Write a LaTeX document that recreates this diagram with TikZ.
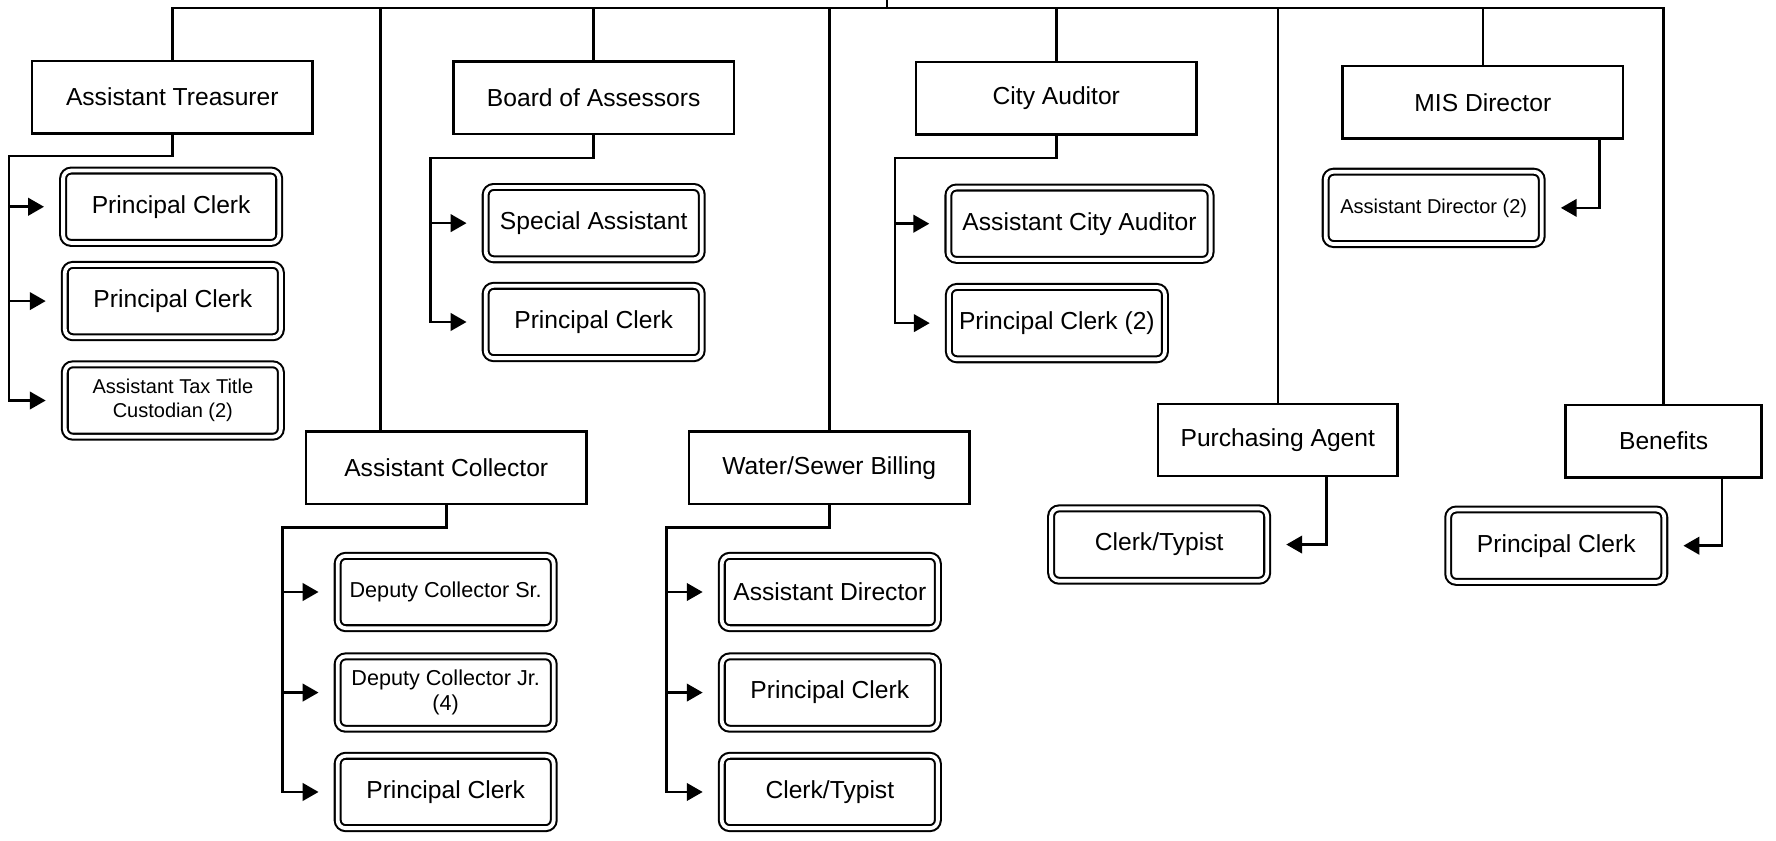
\documentclass[tikz,border=0pt]{standalone}
\usepackage{fontspec}
\setmainfont{Liberation Sans}
\usetikzlibrary{arrows.meta,calc}

\tikzset{
    head box/.style={
        draw,line width=1.6pt,
        minimum width=6.2cm,minimum height=1.6cm,
        font=\fontsize{15.5}{18}\selectfont
    },
    staff box/.style={
        draw,line width=1.3pt,double,double distance=2.4pt,rounded corners=5pt,
        minimum width=4.78cm,minimum height=1.6cm,align=center,
        font=\fontsize{15.5}{18}\selectfont
    },
    small text/.style={font=\fontsize{12.6}{15}\selectfont},
    link/.style={line width=1.6pt,line cap=rect},
    feed/.style={line width=1.6pt,line cap=rect,-{Triangle[length=10pt,width=11pt]},shorten >=0.4cm}
}

\begin{document}
\begin{tikzpicture}[x=0.025cm,y=-0.025cm]
    \useasboundingbox (0,0) rectangle (1572,744);

    % department heads
    \node[head box] (AT) at (152.5,86) {Assistant Treasurer};
    \node[head box] (BA) at (525.5,86.5) {Board of Assessors};
    \node[head box] (CA) at (935,87) {City Auditor};
    \node[head box] (MIS) at (1312.5,90.5) {MIS Director};
    \node[head box] (AC) at (395,414) {Assistant Collector};
    \node[head box] (WS) at (734,414) {Water/Sewer Billing};
    \node[head box,minimum width=5.3cm] (PA) at (1131,389.5) {Purchasing Agent};
    \node[head box,minimum width=4.33cm] (BE) at (1472.5,390.5) {Benefits};

    % staff
    \node[staff box] (AT1) at (151.5,183) {Principal Clerk};
    \node[staff box] (AT2) at (153,266.5) {Principal Clerk};
    \node[staff box,small text] (AT3) at (153,354.5) {Assistant Tax Title\\Custodian (2)};
    \node[staff box] (BA1) at (525.5,197.5) {Special Assistant};
    \node[staff box] (BA2) at (525.5,285) {Principal Clerk};
    \node[staff box,minimum width=5.8cm] (CA1) at (955.5,198) {Assistant City Auditor};
    \node[staff box] (CA2) at (935.5,286) {Principal Clerk (2)};
    \node[staff box,small text] (MIS1) at (1269,184) {Assistant Director (2)};
    \node[staff box,small text,font=\fontsize{13.6}{16}\selectfont] (AC1) at (394.5,524) {Deputy Collector Sr.};
    \node[staff box,small text,font=\fontsize{13.6}{16}\selectfont] (AC2) at (394.5,613) {Deputy Collector Jr.\\(4)};
    \node[staff box] (AC3) at (394.5,701) {Principal Clerk};
    \node[staff box] (WS1) at (734.5,524) {Assistant Director};
    \node[staff box] (WS2) at (734.5,613) {Principal Clerk};
    \node[staff box] (WS3) at (734.5,701) {Clerk/Typist};
    \node[staff box] (PA1) at (1026,482) {Clerk/Typist};
    \node[staff box] (BE1) at (1377.5,483) {Principal Clerk};

    % top bus
    \coordinate (top) at (785,7);
    \coordinate (boss) at (785,-3);
    \coordinate (ACtop) at ($(AC.north west)+(67,0)$);
    \draw[link] (boss) -- (top);
    \foreach \n in {AT.north,BA.north,CA.north,MIS.north,ACtop,WS.north,PA.north,BE.north}
        \draw[link] (\n) |- (top);

    % left feeds
    \coordinate (ATbus) at (8,138);
    \coordinate (BAbus) at (381,140);
    \coordinate (CAbus) at (792,140);
    \coordinate (ACbus) at (250,467);
    \coordinate (WSbus) at (590,467);
    \foreach \h in {AT,BA,CA,AC,WS}
        \draw[link] (\h.south) |- (\h bus);
    \foreach \c in {AT1,AT2,AT3} \draw[feed] (ATbus) |- (\c);
    \foreach \c in {BA1,BA2} \draw[feed] (BAbus) |- (\c);
    \foreach \c in {CA1,CA2} \draw[feed] (CAbus) |- (\c);
    \foreach \c in {AC1,AC2,AC3} \draw[feed] (ACbus) |- (\c);
    \foreach \c in {WS1,WS2,WS3} \draw[feed] (WSbus) |- (\c);

    % right feeds
    \coordinate (MISdrop) at ($(MIS.south east)+(-22,0)$);
    \coordinate (PAdrop) at ($(PA.south east)+(-64,0)$);
    \coordinate (BEdrop) at ($(BE.south east)+(-36,0)$);
    \draw[feed] (MISdrop) |- (MIS1);
    \draw[feed] (PAdrop) |- (PA1);
    \draw[feed] (BEdrop) |- (BE1);
\end{tikzpicture}
\end{document}
